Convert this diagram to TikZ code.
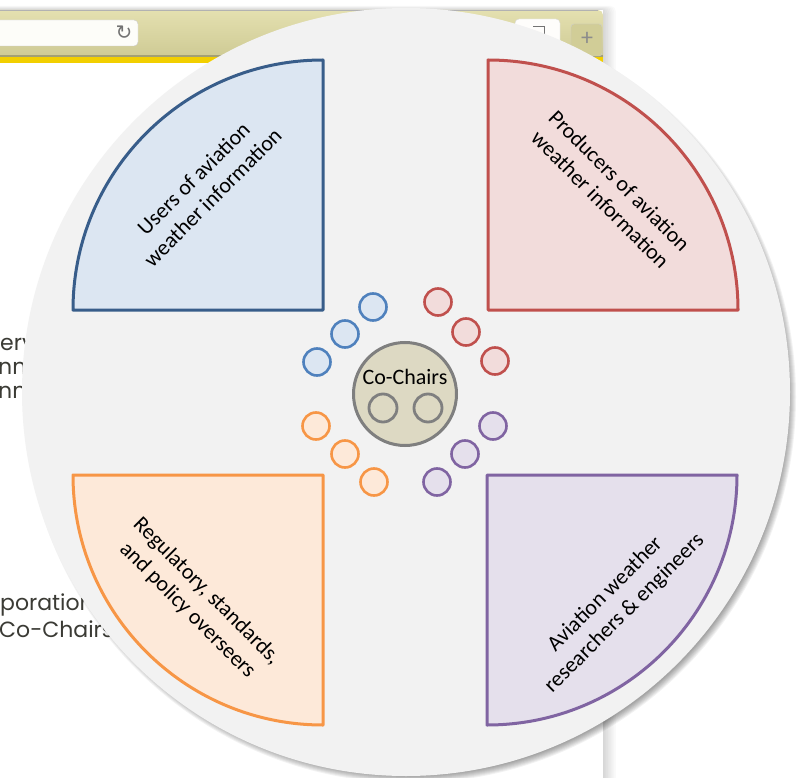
\documentclass[tikz,border=0pt]{standalone}
\usepackage{fontspec}
\setmainfont{Carlito}
\newfontfamily\popfont{Poppins}
\newfontfamily\symfont{DejaVu Sans}
\usetikzlibrary{positioning}

\definecolor{bluefill}{HTML}{DCE6F2}
\definecolor{blueline}{HTML}{385D8A}
\definecolor{bluering}{HTML}{4F81BD}
\definecolor{redfill}{HTML}{F2DCDB}
\definecolor{redline}{HTML}{C0504D}
\definecolor{orangefill}{HTML}{FDE9D9}
\definecolor{orangeline}{HTML}{F79646}
\definecolor{purplefill}{HTML}{E5E0EC}
\definecolor{purpleline}{HTML}{8064A2}
\definecolor{chairfill}{HTML}{DDD9C3}
\definecolor{chairline}{HTML}{7F7F7F}
\definecolor{wheel}{HTML}{F2F2F2}
\definecolor{barTop}{HTML}{E4E0B0}
\definecolor{barBot}{HTML}{CCC891}
\definecolor{strip}{HTML}{F2CF00}
\definecolor{pagetext}{HTML}{3B3B35}

\tikzset{
  group/.style={line width=3pt, line join=round},
  member/.style 2 args={circle, draw=#1, fill=#2, line width=2.6pt,
    minimum size=27pt, inner sep=0pt, outer sep=0pt},
  seat/.style={circle, draw=chairline, line width=2.8pt,
    minimum size=28pt, inner sep=0pt, outer sep=0pt},
  grouptext/.style={font=\fontsize{22}{27}\selectfont, align=center, inner sep=0pt},
  pagetxt/.style={font=\popfont\fontsize{22}{25}\selectfont, text=pagetext,
    inner sep=0pt, anchor=base west}
}

\begin{document}
\begin{tikzpicture}[x=1pt,y=-1pt]
  \useasboundingbox (0,0) rectangle (806,778);
  \fill[white] (0,0) rectangle (806,778);

  % browser window behind the wheel
  \foreach \s in {1,...,8}{
    \fill[black, opacity=0.018, rounded corners=5pt] (-10,10-\s*0.5) rectangle (603+\s*1.6,790);
  }
  \fill[white] (-10,10) rectangle (603,790);
  \shade[top color=barTop, bottom color=barBot, rounded corners=5pt] (-10,10) rectangle (603,62);
  \draw[black!30] (-10,10.5) -- (598,10.5);
  \fill[black!20!barBot] (-10,55) rectangle (603,57);
  \fill[strip] (-10,57) rectangle (603,63);
  \draw[black!20, fill=white!93!barTop, rounded corners=4pt] (-10,20) rectangle (138,46);
  \node[font=\symfont\fontsize{20}{20}\selectfont, text=black!55] (reload) at (124,33) {↻};
  \draw[black!15, fill=white!95!barTop, rounded corners=4pt] (515,19) rectangle (560,52);
  \draw[black!55, line width=1pt] (533,27) -- (544,27) -- (544,38);
  \draw[black!20, fill=barBot!80!barTop, rounded corners=3pt] (571,24) rectangle (602,56);
  \node[font=\fontsize{24}{24}\selectfont, text=black!45] (newtab) at (587,39) {+};

  % page text peeking out
  \node[pagetxt] (ln1) at (0,350) {ery};
  \node[pagetxt] (ln2) at (-2,374) {nnn};
  \node[pagetxt] (ln3) at (-2,398) {nnn};
  \node[pagetxt] (ln4) at (0,610) {poration};
  \node[pagetxt] (ln5) at (-1,637) {Co-Chairs};

  % the wheel and its shadow
  \foreach \s in {1,...,8}{
    \fill[black, opacity=0.05] (410,397) circle[radius=378+\s];
  }
  \fill[wheel] (406,392) circle[radius=384];

  % four groups
  \draw[group, draw=blueline, fill=bluefill]
    (323,310) -- (73,310) arc[start angle=180, end angle=270, radius=250] -- cycle;
  \draw[group, draw=redline, fill=redfill]
    (488,310) -- (488,60) arc[start angle=270, end angle=360, radius=250] -- cycle;
  \draw[group, draw=orangeline, fill=orangefill]
    (323,475) -- (73,475) arc[start angle=180, end angle=90, radius=250] -- cycle;
  \draw[group, draw=purpleline, fill=purplefill]
    (487,475) -- (737,475) arc[start angle=0, end angle=90, radius=250] -- cycle;

  \node[grouptext, rotate=45] (users) at (203,188) {Users of aviation\\weather information};
  \node[grouptext, rotate=-45] (producers) at (610,190) {Producers of aviation\\weather information};
  \node[grouptext, rotate=-45] (regulators) at (197,601) {Regulatory, standards,\\and policy overseers};
  \node[grouptext, rotate=45] (researchers) at (615,604) {Aviation weather\\researchers \& engineers};

  % members of each group
  \foreach \n/\x/\y in {1/373/307, 2/345/334, 3/317/362}
    \node[member={bluering}{bluefill}] (user\n) at (\x,\y) {};
  \foreach \n/\x/\y in {1/438/302, 2/466/332, 3/495/361}
    \node[member={redline}{redfill}] (prod\n) at (\x,\y) {};
  \foreach \n/\x/\y in {1/316/426, 2/345/454, 3/374/482}
    \node[member={orangeline}{orangefill}] (reg\n) at (\x,\y) {};
  \foreach \n/\x/\y in {1/493/426, 2/465/454, 3/437/482}
    \node[member={purpleline}{purplefill}] (res\n) at (\x,\y) {};

  % co-chairs
  \node[circle, draw=chairline, fill=chairfill, line width=3pt,
    minimum size=103pt, inner sep=0pt] (chairs) at (405,394) {};
  \node[grouptext] (chairtitle) at (405,377) {Co-Chairs};
  \node[seat] (chairA) at (383,408) {};
  \node[seat, right=17pt of chairA] (chairB) {};
\end{tikzpicture}
\end{document}
